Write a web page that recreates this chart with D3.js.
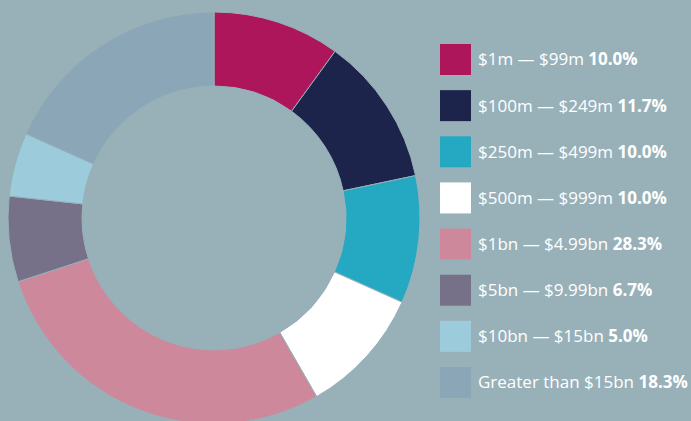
<!DOCTYPE html>
<html>
<head>
<script src="https://d3js.org/d3.v7.min.js" charset="utf-8"></script>
<style>
  body { margin: 0; background: #98b1b9; }
  svg { display: block; }
</style>
</head>
<body>
<svg id="chart" width="691" height="421"></svg>
<script>
  // data
  var categories = ["$1m \u2014 $99m", "$100m \u2014 $249m", "$250m \u2014 $499m", "$500m \u2014 $999m",
                    "$1bn \u2014 $4.99bn", "$5bn \u2014 $9.99bn", "$10bn \u2014 $15bn", "Greater than $15bn"];
  var values = [10.0, 11.7, 10.0, 10.0, 28.3, 6.7, 5.0, 18.3];
  var colors = ["#ae165b", "#1d244b", "#25a9c2", "#ffffff", "#cd899b", "#767089", "#9ccbdb", "#8aa6b7"];

  var svg = d3.select("#chart"),
      cx = 214, cy = 218,
      outerR = 206, innerR = 132;

  var data = categories.map(function(c, i) { return {name: c, value: values[i], color: colors[i]}; });

  var pie = d3.pie().sort(null).value(function(d) { return d.value; });
  var arc = d3.arc().innerRadius(innerR).outerRadius(outerR);

  svg.append("g")
      .attr("transform", "translate(" + cx + "," + cy + ")")
    .selectAll("path")
    .data(pie(data))
    .join("path")
      .attr("d", arc)
      .attr("fill", function(d) { return d.data.color; })
      .attr("stroke", "#98b1b9")
      .attr("stroke-width", 1);

  // legend
  var legendY = d3.scalePoint().domain(categories).range([44, 367]);
  var legend = svg.append("g")
    .selectAll("g")
    .data(data)
    .join("g")
      .attr("transform", function(d) { return "translate(440," + legendY(d.name) + ")"; });

  legend.append("rect")
      .attr("width", 31).attr("height", 31)
      .attr("fill", function(d) { return d.color; });

  var txt = legend.append("text")
      .attr("x", 38).attr("y", 15.5)
      .attr("dy", "0.35em")
      .attr("fill", "#ffffff")
      .style("font-family", "'Open Sans', sans-serif")
      .style("font-size", "17px");
  txt.append("tspan").text(function(d) { return d.name + " "; });
  txt.append("tspan").attr("font-weight", "bold").text(function(d) { return d.value.toFixed(1) + "%"; });
</script>
</body>
</html>
